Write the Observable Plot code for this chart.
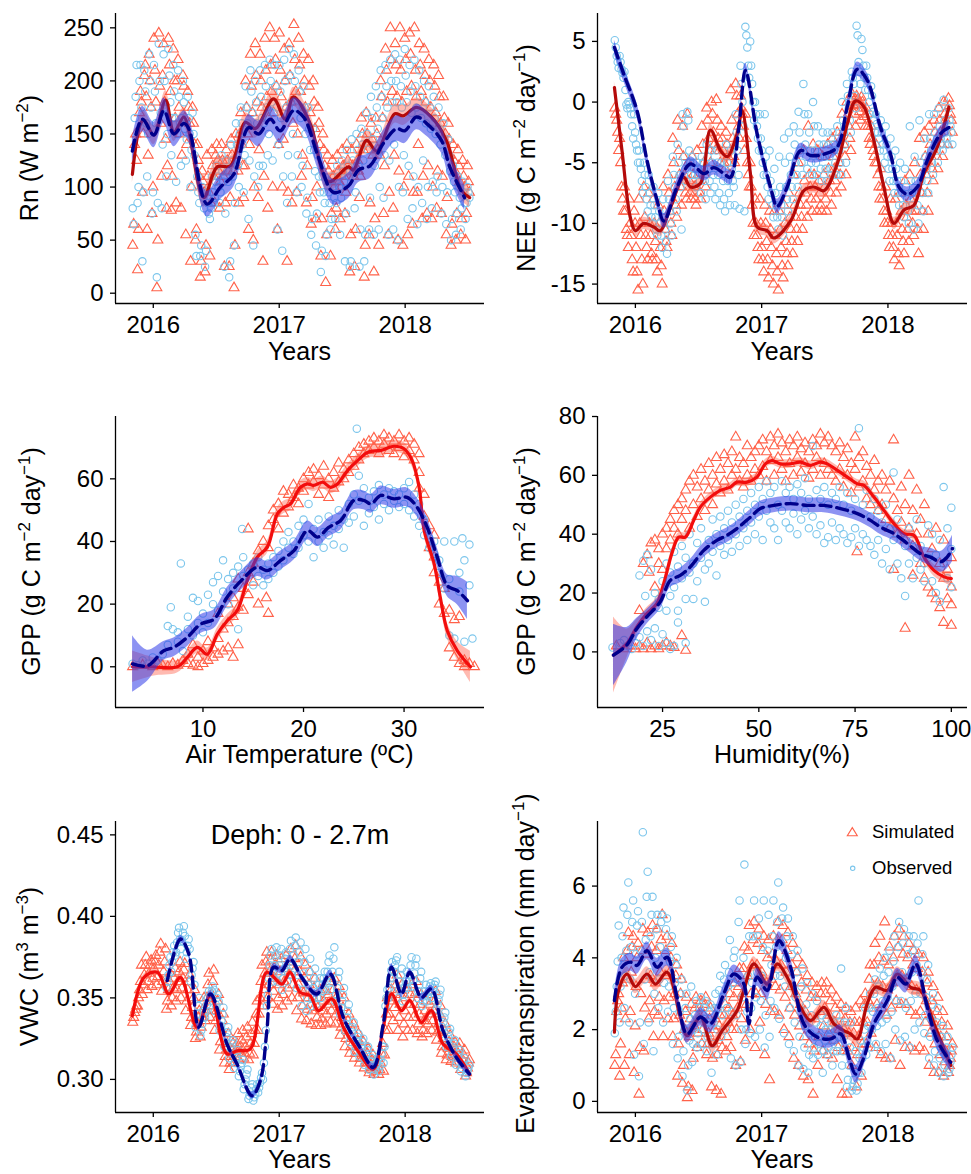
<!DOCTYPE html>
<html><head><meta charset="utf-8">
<script src="https://cdn.jsdelivr.net/npm/d3@7"></script>
<script src="https://cdn.jsdelivr.net/npm/@observablehq/plot@0.6"></script>
<style>
body{margin:0;background:#fff;}
#wrap{position:relative;width:971px;height:1174px;background:#fff;overflow:hidden;}
</style></head><body><div id="wrap"></div>
<script>
// ---------- time-series scatter: each string = values of one 14-day slot starting 2015-11-01 ----------
const T0 = 2015.833, STEP = 0.0383;

const rnSim = ["45 65 140 150 125","22 60 170 190 180","95 150 205 215 185","60 130 225 200 175","75 100 240 210 180","5 50 245 195 160","110 205 235 180 145","80 120 240 215 190","78 110 230 200 165","85 200 220 175 150",
"80 130 205 195 165","55 140 190 175 160","30 100 175 160 140","50 60 140 125 110","15 30 115 105 95","20 45 130 110 95","35 85 135 120 110","85 130 140 125 115","80 105 140 125 110","25 85 135 125 115",
"25 90 145 130 115","5 45 150 130 115","85 150 170 140 120","90 120 200 175 150","60 140 225 195 170","50 100 235 205 180","90 135 225 200 175","30 110 240 210 185","80 165 250 215 190","100 170 240 220 195",
"60 140 245 210 185","100 145 230 200 175","30 95 235 205 180","85 160 253 220 190","95 150 240 215 190","110 130 225 200 175","85 120 220 195 170","65 90 200 180 155","70 100 175 160 140","35 70 150 135 120",
"10 55 130 115 105","35 75 125 110 100","60 80 130 115 105","70 100 135 120 110","75 95 140 125 115","20 55 135 120 110","25 60 140 125 115","90 110 165 150 135","15 45 170 150 135","55 85 160 145 130",
"20 70 165 150 135","45 130 200 185 165","75 120 230 210 180","55 95 250 220 190","80 130 235 215 185","50 115 250 210 180","45 100 240 220 190","55 110 245 225 195","65 95 250 210 185","95 140 235 215 190",
"70 110 230 205 180","75 120 220 200 175","70 100 215 195 170","80 115 205 185 160","75 110 185 165 150","55 90 160 145 130","45 65 140 125 115","50 75 135 120 105","55 70 125 110 100","50 75 120 105 95"];
const rnObs = ["80 65 165 185 215","85 100 200 215 175","30 95 210 190 160","110 150 225 200 175","75 95 215 190 160","15 85 235 200 170","80 140 225 200 175","110 150 230 205 180","130 165 215 190 165","105 150 210 185 160",
"120 165 200 180 155","125 145 185 165 150","100 135 170 150 130","55 35 110 95 85","35 45 100 90 80","25 40 95 85 75","70 80 110 95 85","90 105 120 110 100","85 95 130 115 105","25 75 125 115 105",
"15 30 140 125 110","45 85 160 140 120","100 150 175 160 140","95 130 195 175 160","70 125 210 190 170","45 110 200 180 160","100 120 210 185 165","120 160 215 195 175","130 150 220 200 180","125 170 215 195 175",
"60 140 215 190 165","40 110 220 200 175","85 130 230 205 180","110 150 225 200 175","95 130 210 190 165","100 120 195 175 150","75 90 175 155 135","55 70 155 135 115","45 75 130 110 95","20 40 110 95 85",
"35 55 105 95 85","60 70 110 100 90","70 85 120 110 100","55 90 125 115 105","30 75 135 120 110","25 30 145 125 115","80 95 150 135 120","25 60 155 140 125","30 55 170 150 135","60 90 185 165 145",
"55 120 195 175 155","60 100 210 185 165","90 130 215 195 175","55 125 220 200 180","60 140 225 200 180","50 100 220 195 175","95 130 230 205 180","70 120 215 190 170","80 110 220 195 175","65 100 210 185 165",
"85 125 200 180 160","70 100 195 175 155","80 105 185 165 150","95 110 175 155 140","75 100 160 145 130","65 95 145 130 115","50 70 120 105 95","55 75 110 100 90","60 80 105 95 85","70 85 100 95 90"];

const neeSim = ["-0.5 -1 -1.5 -2.5 -4","-3 -5 -7 -8 -9","-7 -9 -10.5 -11 -12","-8 -10 -11 -13 -14","-9 -10 -12 -14 -15.5","-8 -10 -11 -13 -15","-7 -9.5 -11 -12 -13","-7.5 -10 -11 -12.5 -13","-8 -10 -11.5 -13 -14","-8.5 -10 -12 -13.5 -15",
"-7 -9 -10.5 -11.5 -12","-6 -7.5 -9 -10 -11","-3 -5 -7 -8.5 -9.5","-1.5 -4 -6 -7 -8.5","-2 -4.5 -6 -7.5 -8","-1 -5 -6.5 -7.5 -8","-4.5 -6 -7 -8 -8.5","-4 -6 -6.5 -7.5 -8","-2 -3.5 -5 -6 -7","-0.5 -1.5 -3 -4 -5",
"0 -1 -2.5 -3.5 -4","0.2 -1.5 -3 -4 -5","-2 -3 -4 -5 -5.5","-2.5 -3.5 -4.5 -5 -6","1 -1.5 -3 -4.5 -5","1.5 0.5 -1 -2 -3","0.5 -0.5 -1 -2 -4","-1 -3 -5 -6 -7","-5 -7 -8.5 -10 -11","-8 -10 -11 -12 -13",
"-8 -10 -12 -13 -14","-8.5 -10 -11.5 -13 -14.5","-9 -10.5 -12 -13.5 -15","-9 -11 -12.5 -14 -15.5","-9 -10.5 -12 -13.5 -14.5","-8.5 -10 -11.5 -12.5 -13.5","-7.5 -9.5 -10.5 -11.5 -12.5","-6 -8.5 -9.5 -10.5 -11.5","-5 -7.5 -8.5 -9.5 -10.5","-4 -6.5 -7.5 -8.5 -9.5",
"-2 -6 -7 -8 -9","-3.5 -6 -7 -8 -9","-4 -6.5 -7.5 -8.5 -9","-4.5 -6 -7 -8 -9","-3.5 -5.5 -6.5 -7.5 -8.5","-3 -4.5 -5.5 -6.5 -7.5","-2.5 -4 -5 -6 -7","-1 -2.5 -3.5 -4.5 -6","0 -1 -2 -3 -4","0.7 0.3 -0.3 -1 -2",
"0.5 0.2 -0.2 -0.8 -1.5","0.4 0 -0.5 -1.2 -2","-0.5 -1 -2 -3 -3.5","-2 -3 -4 -4.5 -5","-3.5 -5 -6 -7 -8","-5.5 -7 -8 -9 -10","-7 -9 -10 -11 -12","-8 -10 -11 -12 -13","-8 -10 -11 -12.5 -13.5","-7.5 -9 -10.5 -11.5 -12.5",
"-6.5 -8.5 -9.5 -10.5 -11.5","-6 -8 -9 -10 -11","-5 -7.5 -9 -10.5 -12.5","-3 -6 -7.5 -9 -10.5","-2.5 -4.5 -6 -7.5 -9","-2 -3.5 -4.5 -5.5 -6.5","-1.5 -2.5 -3.5 -4.5 -5.5","-0.5 -1.5 -2.5 -3.5 -4.5","0 -1 -1.5 -2.5 -3.5","0.3 -0.3 -1 -1.5 -2.5"];
const neeObs = ["5.1 4.5 3.8 3.3 2.8","3.8 3.3 2.7 2.4 2","2.5 1 -0.2 -0.5 0","-0.2 -0.5 -1 -2 -3","-1 -2.5 -3.5 -4 -5","-4 -5 -5.5 -6.5 -7.5","-5 -6 -7 -8 -9","-6 -7.5 -8.5 -9.5 -10","-7 -8.5 -9.5 -10.5 -11","-7.5 -9 -10 -11 -12",
"-8 -9.5 -10.5 -11.5 -12.5","-6.5 -8 -9 -10 -11","-4.5 -6 -7 -8 -9","-3.5 -5 -6 -7 -10.5","-1 -2 -4.5 -5.5 -6.5","-0.8 -1.5 -4 -5 -6","-4.5 -5 -5.5 -6 -7","-5 -5.5 -6 -6.5 -7.5","-4.5 -5 -5.5 -6.5 -8","-3.5 -4.5 -5.5 -6.5 -7.5",
"-4 -5 -6 -7 -8","-4 -5 -6 -7.5 -8.5","-5 -5.5 -6.5 -8 -9","-3.5 -5 -6.5 -7.5 -8.5","-4 -5.5 -6.5 -7 -8.5","-1 -2.5 -4 -6 -8.8","3 1.5 0 -2 -9","6.2 5.5 4.5 3 2","5 3 1.5 0 -1.5","0 -1 -2 -3 -4",
"-1 -3 -4 -5 -6","-1 -4.5 -6 -7 -8","-4 -6.5 -7.5 -8.5 -9.5","-5.5 -7.5 -8.5 -9.5 -10.5","-4.5 -7 -8.5 -9.5 -11","-3 -5 -7 -8 -9","-2.5 -4.5 -6 -7 -8","-2 -3.5 -5 -6 -7","-0.8 -2.5 -4 -5 -6","1.5 -1 -3.5 -4.5 -5.5",
"-1 -2.5 -4 -5 -6","0 -2 -4 -5 -6","-2 -3.5 -4.5 -5.5 -6.5","-2.5 -3.5 -4.5 -5.5 -6.5","-2.5 -3.5 -4.5 -5.5 -6","-2.5 -3.5 -4 -5 -6","-2 -3 -4 -5 -6","0 -1.5 -2.5 -3.5 -5","1.5 0.5 -0.5 -1.5 -2.5","2.5 2 1.5 0.5 -0.5",
"6.3 5.5 3.3 2.5 1.5","5.2 4.3 3 2 1","3 2 1 0 -1","1.3 0.5 -0.8 -1.5 -2.5","-1 -1.8 -2.5 -3 -4","-1.5 -2.5 -3.5 -4 -5","-2 -3.5 -4.5 -5.5 -6.5","-3 -4.5 -5.5 -6.5 -7.5","-4 -5.5 -6.5 -7.5 -8.5","-5 -6.5 -7.5 -8.5 -9.5",
"-5.5 -7 -8 -9 -10","-2 -6.5 -7.5 -8.5 -10.5","-4.5 -6.5 -7.5 -8.5 -10","-1.5 -5 -6.5 -7.5 -9","-3 -4.5 -5.5 -6.5 -7.5","-1 -3 -4 -5 -6","-1 -2.5 -3.5 -4 -5","-0.5 -2 -3 -3.5 -4","0.2 -1.5 -2.5 -3 -3.5","-0.5 -1.5 -2 -2.5 -3.5"];

const vwcSim = ["0.335 0.338 0.341 0.343 0.345","0.345 0.35 0.355 0.36 0.37","0.352 0.358 0.364 0.37 0.375","0.355 0.36 0.365 0.37 0.373","0.357 0.362 0.368 0.372 0.376","0.358 0.363 0.37 0.378 0.383","0.354 0.36 0.366 0.372 0.38","0.343 0.348 0.355 0.36 0.365","0.345 0.35 0.356 0.362 0.368","0.348 0.355 0.36 0.366 0.372",
"0.35 0.356 0.362 0.367 0.371","0.342 0.348 0.355 0.36 0.364","0.333 0.338 0.344 0.35 0.355","0.325 0.329 0.334 0.338 0.342","0.326 0.332 0.338 0.343 0.35","0.336 0.342 0.35 0.358 0.365","0.338 0.345 0.352 0.36 0.367","0.33 0.336 0.342 0.348 0.352","0.318 0.323 0.33 0.336 0.34","0.31 0.314 0.318 0.322 0.328",
"0.306 0.31 0.314 0.318 0.322","0.31 0.314 0.318 0.322 0.328","0.312 0.316 0.32 0.324 0.33","0.313 0.316 0.32 0.326 0.332","0.312 0.316 0.322 0.328 0.335","0.315 0.322 0.33 0.34 0.348","0.33 0.34 0.35 0.36 0.37","0.345 0.355 0.365 0.372 0.378","0.35 0.358 0.366 0.373 0.378","0.346 0.354 0.362 0.37 0.376",
"0.343 0.35 0.358 0.366 0.374","0.345 0.352 0.36 0.368 0.376","0.348 0.356 0.364 0.372 0.38","0.35 0.358 0.366 0.374 0.382","0.342 0.35 0.358 0.366 0.375","0.337 0.345 0.353 0.362 0.37","0.336 0.343 0.35 0.358 0.366","0.334 0.342 0.35 0.356 0.362","0.333 0.338 0.344 0.35 0.355","0.333 0.337 0.342 0.348 0.354",
"0.334 0.34 0.346 0.352 0.36","0.335 0.342 0.348 0.355 0.362","0.334 0.34 0.346 0.352 0.357","0.327 0.332 0.338 0.344 0.35","0.32 0.325 0.33 0.336 0.34","0.316 0.32 0.325 0.33 0.334","0.313 0.316 0.32 0.324 0.328","0.31 0.313 0.316 0.32 0.323","0.307 0.31 0.313 0.316 0.319","0.304 0.306 0.309 0.312 0.315",
"0.303 0.305 0.307 0.31 0.313","0.303 0.306 0.31 0.316 0.322","0.305 0.315 0.33 0.34 0.35","0.33 0.34 0.348 0.355 0.362","0.336 0.344 0.352 0.358 0.364","0.33 0.338 0.346 0.352 0.358","0.326 0.334 0.342 0.35 0.356","0.33 0.338 0.346 0.352 0.358","0.33 0.338 0.346 0.353 0.36","0.328 0.334 0.34 0.346 0.352",
"0.326 0.33 0.336 0.342 0.348","0.328 0.334 0.34 0.346 0.352","0.33 0.336 0.342 0.348 0.354","0.324 0.329 0.334 0.34 0.345","0.316 0.32 0.325 0.33 0.334","0.312 0.315 0.319 0.323 0.327","0.311 0.314 0.317 0.32 0.323","0.31 0.313 0.316 0.319 0.322","0.306 0.309 0.312 0.315 0.318","0.302 0.304 0.307 0.31 0.312"];
const vwcObs = ["","","","","","","","0.356 0.36 0.364 0.37 0.375","0.366 0.372 0.378 0.382 0.376","0.378 0.384 0.39 0.393 0.386",
"0.38 0.385 0.39 0.394 0.388","0.374 0.378 0.382 0.386 0.38","0.36 0.364 0.368 0.372 0.358","0.332 0.336 0.34 0.345 0.35","0.327 0.33 0.334 0.338 0.342","0.338 0.342 0.346 0.35 0.354","0.348 0.351 0.354 0.357 0.355","0.342 0.346 0.35 0.352 0.348","0.33 0.333 0.336 0.34 0.344","0.32 0.323 0.326 0.329 0.332",
"0.313 0.316 0.319 0.322 0.324","0.307 0.31 0.313 0.316 0.318","0.302 0.305 0.308 0.31 0.312","0.294 0.297 0.3 0.303 0.306","0.288 0.29 0.292 0.295 0.297","0.287 0.289 0.291 0.294 0.297","0.292 0.295 0.298 0.301 0.304","0.3 0.31 0.32 0.33 0.345","0.352 0.362 0.37 0.376 0.38","0.36 0.365 0.37 0.376 0.381",
"0.36 0.365 0.37 0.376 0.38","0.355 0.362 0.368 0.374 0.378","0.36 0.366 0.372 0.38 0.385","0.364 0.37 0.376 0.382 0.387","0.356 0.364 0.372 0.378 0.384","0.345 0.355 0.365 0.372 0.38","0.342 0.35 0.358 0.366 0.374","0.345 0.35 0.356 0.362 0.368","0.346 0.35 0.354 0.358 0.362","0.35 0.354 0.358 0.362 0.366",
"0.355 0.36 0.366 0.372 0.376","0.355 0.36 0.366 0.374 0.381","0.348 0.352 0.356 0.362 0.366","0.34 0.344 0.348 0.352 0.356","0.33 0.334 0.338 0.342 0.346","0.323 0.326 0.329 0.332 0.335","0.317 0.32 0.323 0.326 0.328","0.314 0.317 0.32 0.323 0.325","0.309 0.312 0.315 0.318 0.32","0.306 0.308 0.311 0.313 0.315",
"0.303 0.306 0.308 0.31 0.313","0.305 0.308 0.312 0.316 0.32","0.31 0.32 0.345 0.35 0.355","0.35 0.356 0.362 0.367 0.372","0.362 0.366 0.37 0.373 0.375","0.35 0.355 0.36 0.364 0.368","0.348 0.352 0.356 0.36 0.366","0.356 0.36 0.364 0.37 0.375","0.357 0.361 0.365 0.37 0.374","0.35 0.354 0.358 0.362 0.366",
"0.345 0.348 0.351 0.354 0.358","0.348 0.351 0.354 0.357 0.359","0.35 0.353 0.356 0.358 0.36","0.343 0.346 0.349 0.352 0.355","0.328 0.332 0.335 0.338 0.341","0.32 0.323 0.326 0.329 0.331","0.314 0.316 0.319 0.322 0.324","0.309 0.311 0.314 0.316 0.318","0.305 0.307 0.309 0.311 0.313","0.302 0.304 0.305 0.307 0.309"];

const etSim = ["1.0 1.3 2.5 2.8 3.0","0.7 1.6 2.6 3.3 4.0","1.0 2.3 3.4 4.2 4.7","1.3 2.5 3.6 4.3 4.6","0.8 2.1 3.2 4.0 4.4","0.2 1.5 3.0 4.2 4.8","1.4 2.6 3.4 4.1 4.7","2.3 2.8 3.5 4.3 4.9","1.8 2.5 3.3 4.2 4.8","2.4 2.9 3.6 4.5 5.2",
"1.8 2.8 3.5 4.2 4.6","2.3 2.9 3.6 4.0 4.4","1.8 2.3 3.0 3.5 3.8","0.7 1.6 2.4 3.0 3.4","0.5 1.0 2.0 2.5 2.9","0.1 0.4 1.8 2.3 2.7","0.3 1.2 2.1 2.6 2.9","1.5 1.9 2.3 2.6 2.8","1.6 2.0 2.4 2.7 2.9","1.3 1.6 1.9 2.3 2.6",
"0.4 1.2 1.6 2.0 2.3","0.3 1.3 1.7 2.1 2.4","0.2 1.5 2.0 2.4 2.7","1.4 1.8 2.2 2.6 3.0","1.5 2.0 2.4 2.9 3.3","1.0 2.0 2.6 3.2 3.7","1.1 2.3 3.0 3.7 4.3","1.7 2.7 3.5 4.2 4.9","2.0 3.0 3.8 4.5 5.0","1.5 3.0 3.8 4.4 4.8",
"2.2 3.0 3.6 4.2 4.6","1.3 2.7 3.3 4.0 4.5","0.6 2.5 3.4 4.1 4.6","2.5 3.2 3.9 4.5 5.0","2.4 3.1 3.8 4.5 4.9","2.0 2.9 3.6 4.2 4.7","1.8 2.6 3.2 3.8 4.4","1.2 2.4 3.0 3.6 4.0","1.0 2.1 2.7 3.3 3.8","0.7 1.8 2.5 3.1 3.5",
"0.6 1.6 2.3 2.9 3.3","0.2 1.4 2.3 2.9 3.2","1.0 1.8 2.5 3.0 3.3","1.4 2.1 2.6 3.0 3.3","1.3 1.9 2.4 2.8 3.1","1.2 1.7 2.2 2.6 2.9","0.6 1.5 2.0 2.4 2.7","0.2 1.4 2.0 2.3 2.6","0.2 1.4 1.9 2.2 2.5","1.0 1.5 1.9 2.2 2.6",
"0.4 1.3 1.8 2.2 2.8","0.7 1.6 2.2 2.7 3.0","1.6 2.2 2.8 3.4 3.8","1.9 2.6 3.1 3.8 4.4","1.5 2.7 3.3 4.0 4.6","1.3 2.6 3.2 3.9 5.0","1.2 2.4 3.1 3.8 4.3","1.2 2.6 3.3 4.0 4.6","1.7 2.8 3.5 4.3 4.8","1.0 2.7 3.5 4.1 4.6",
"1.5 2.7 3.4 4.0 4.4","1.5 2.5 3.2 3.8 4.2","1.4 2.4 3.1 3.7 4.1","1.5 2.5 3.1 3.6 4.0","1.4 2.2 2.8 3.3 3.6","1.0 1.9 2.4 2.8 3.2","0.8 1.6 2.1 2.5 2.9","0.8 1.3 1.8 2.2 2.5","0.7 1.1 1.4 1.8 2.1","0.8 1.0 1.2 1.4 1.6"];
const etObs = ["1.9 2.5 3.2 3.9 4.9","2.2 3.2 4.0 4.6 5.4","2.6 3.5 4.2 5.2 6.1","2.2 3.4 4.3 5.0 5.6","1.3 3.0 4.1 4.9 5.3","0.7 2.2 4.2 5.0 7.5","1.6 3.4 4.5 5.7 6.4","2.2 3.6 4.6 5.2 5.7","1.4 3.0 4.0 4.8 5.2","2.6 3.4 4.3 5.0 5.2",
"2.2 3.3 4.1 4.8 5.1","2.5 3.2 3.9 4.3 4.6","1.6 2.6 3.3 3.8 4.0","1.2 1.8 2.5 3.0 3.4","0.7 1.4 2.0 2.6 3.0","0.3 1.0 1.7 2.3 3.2","1.1 1.6 2.0 2.4 2.8","1.5 1.9 2.3 2.6 2.9","1.6 2.0 2.3 2.6 2.8","1.4 1.8 2.2 2.5 2.7",
"0.8 1.6 2.2 2.6 3.0","1.3 2.0 2.6 3.1 3.5","1.8 2.4 2.9 3.4 3.8","2.0 2.6 3.2 3.6 4.5","1.2 2.5 3.3 4.0 4.2","1.0 2.4 3.4 5.0 5.6","1.1 2.0 2.9 4.0 6.6","1.6 2.0 2.5 3.5 4.6","1.9 2.6 3.3 4.6 5.6","1.8 2.9 3.6 4.6 5.1",
"2.0 2.8 3.5 4.3 5.6","1.5 2.4 3.2 4.2 5.2","1.8 2.8 3.8 4.6 5.6","2.6 3.5 4.3 5.0 6.1","2.3 3.5 4.4 5.1 5.4","1.9 3.2 4.0 4.6 5.1","1.6 2.6 3.4 4.1 4.6","1.4 2.2 2.9 3.6 4.2","1.0 1.8 2.5 3.2 3.7","0.9 1.5 2.1 2.7 3.3",
"0.8 1.3 1.9 2.4 3.0","1.2 1.5 1.8 2.2 2.8","1.3 1.6 1.8 2.1 2.4","0.8 1.4 1.7 2.0 2.3","1.3 1.5 1.8 2.0 2.2","1.0 1.4 1.7 2.0 2.4","1.4 1.6 1.8 2.2 3.7","1.0 1.4 1.8 2.2 2.6","0.4 0.6 1.0 1.5 2.2","0.3 0.4 0.6 0.9 1.4",
"0.3 0.5 0.8 1.2 1.7","0.8 1.2 1.5 2.0 2.6","1.3 1.7 2.1 2.6 3.0","1.5 2.0 2.5 3.0 3.4","1.6 2.1 2.6 3.2 3.7","1.4 2.2 2.8 3.5 4.0","1.6 2.3 2.9 3.6 4.2","1.2 2.5 3.2 3.9 4.6","2.0 2.8 3.5 4.3 5.0","1.7 2.8 3.6 4.4 4.8",
"1.8 2.6 3.4 4.1 4.6","1.5 2.8 3.6 4.2 4.6","2.0 3.0 3.8 4.4 5.6","2.2 3.0 3.6 4.1 4.6","1.9 2.4 2.9 3.4 3.8","1.2 1.8 2.3 2.7 3.0","1.0 1.4 1.8 2.2 2.6","0.8 1.2 1.5 1.8 2.1","0.7 1.0 1.3 1.5 1.8","0.8 0.9 1.1 1.3 1.5"];

// ---------- smoothed curves (x in decimal years) and their band half-widths ----------
const rnSimT = [2015.834,2015.900,2015.926,2016.005,2016.098,2016.164,2016.243,2016.282,2016.401,2016.507,2016.612,2016.731,2016.810,2016.955,2017.047,2017.113,2017.245,2017.390,2017.549,2017.588,2017.694,2017.773,2017.918,2017.984,2018.090,2018.208,2018.327,2018.446,2018.512];
const rnSimV = [112,160,163,149,182,152,166,153,90,119,120,161,155,183,164,185,160,105,119,116,144,134,169,167,175,166,144,97,90];
const rnObsT = [2015.834,2015.913,2016.005,2016.084,2016.164,2016.243,2016.282,2016.427,2016.533,2016.639,2016.757,2016.836,2016.929,2017.008,2017.113,2017.193,2017.311,2017.430,2017.549,2017.628,2017.720,2017.826,2017.931,2017.997,2018.090,2018.169,2018.288,2018.354,2018.472];
const rnObsV = [134,164,149,172,150,160,155,84,100,112,156,150,164,153,172,166,128,95,101,116,120,141,155,153,166,160,144,119,90];
const rnBand = {sim: 9, obs: 12};

const neeSimT = [2015.834,2015.894,2015.960,2016.000,2016.066,2016.145,2016.198,2016.277,2016.383,2016.436,2016.515,2016.594,2016.674,2016.727,2016.806,2016.845,2016.911,2016.964,2017.044,2017.096,2017.229,2017.334,2017.413,2017.493,2017.598,2017.678,2017.744,2017.810,2017.889,2017.968,2018.048,2018.127,2018.206,2018.285,2018.391,2018.483];
const neeSimV = [1.2,-4.0,-9.5,-10.6,-10.0,-10.3,-10.6,-8.7,-6.2,-7.0,-6.7,-2.3,-4.0,-4.5,-2.6,-0.7,-5.9,-10.3,-10.6,-11.2,-9.8,-7.3,-7.0,-7.3,-5.1,-1.8,0.1,-0.4,-3.2,-7.0,-10.0,-8.9,-8.5,-5.9,-3.7,-0.4];
const neeObsT = [2015.834,2015.908,2016.013,2016.092,2016.172,2016.225,2016.330,2016.436,2016.542,2016.621,2016.700,2016.753,2016.819,2016.872,2016.964,2017.070,2017.123,2017.202,2017.308,2017.387,2017.493,2017.598,2017.678,2017.757,2017.836,2017.942,2018.021,2018.087,2018.153,2018.232,2018.312,2018.417,2018.483];
const neeObsV = [4.5,2.3,-0.7,-4.8,-8.1,-9.8,-7.0,-5.1,-5.9,-5.4,-5.9,-6.2,-2.1,2.6,-2.6,-7.0,-8.6,-7.0,-4.0,-4.4,-4.3,-3.7,-0.4,2.7,1.8,-2.1,-4.3,-7.0,-7.6,-7.0,-4.8,-2.6,-2.1];
const neeBand = {sim: 0.5, obs: 0.6};

const vwcSimT = [2015.834,2015.926,2016.032,2016.124,2016.216,2016.348,2016.454,2016.586,2016.665,2016.770,2016.902,2017.021,2017.087,2017.166,2017.245,2017.311,2017.417,2017.509,2017.615,2017.747,2017.826,2017.892,2017.971,2018.037,2018.129,2018.208,2018.301,2018.406,2018.512];
const vwcSimV = [0.339,0.3626,0.3657,0.3524,0.3626,0.332,0.3514,0.3156,0.3176,0.3186,0.3657,0.3585,0.3657,0.3534,0.3514,0.3422,0.3493,0.332,0.3186,0.3063,0.332,0.3524,0.3422,0.3483,0.335,0.3422,0.3217,0.3156,0.3033];
const vwcObsT = [2016.111,2016.216,2016.282,2016.361,2016.454,2016.586,2016.665,2016.784,2016.850,2016.902,2016.955,2017.021,2017.087,2017.179,2017.298,2017.404,2017.509,2017.641,2017.747,2017.826,2017.892,2017.971,2018.037,2018.129,2018.208,2018.301,2018.406,2018.512];
const vwcObsV = [0.3606,0.3861,0.377,0.332,0.3524,0.3217,0.3094,0.290,0.2992,0.3299,0.3688,0.3667,0.3739,0.3626,0.3524,0.3647,0.338,0.3196,0.3074,0.334,0.3688,0.3524,0.3657,0.3503,0.3555,0.3299,0.3135,0.3033];
const vwcBand = {sim: 0.002, obs: 0.0022};

const etSimT = [2015.834,2015.868,2015.934,2016.000,2016.092,2016.159,2016.251,2016.357,2016.410,2016.515,2016.608,2016.687,2016.806,2016.859,2016.938,2017.044,2017.123,2017.202,2017.308,2017.387,2017.493,2017.572,2017.651,2017.704,2017.757,2017.836,2017.902,2017.995,2018.074,2018.180,2018.259,2018.365,2018.497];
const etSimV = [1.93,3.1,3.55,3.2,3.55,3.27,3.6,2.35,1.83,2.35,1.55,1.97,2.53,3.1,3.83,3.27,3.83,3.46,2.62,2.25,2.62,2.16,1.97,1.88,1.74,2.72,3.18,3.09,3.55,3.18,3.09,2.16,1.0];
const etObsT = [2015.834,2015.894,2015.960,2016.013,2016.092,2016.172,2016.251,2016.330,2016.410,2016.515,2016.594,2016.700,2016.779,2016.859,2016.898,2016.964,2017.044,2017.136,2017.229,2017.334,2017.440,2017.546,2017.625,2017.691,2017.744,2017.810,2017.889,2017.995,2018.074,2018.140,2018.219,2018.312,2018.391,2018.497];
const etObsV = [2.81,3.74,3.88,3.79,4.2,3.74,4.02,2.9,1.88,2.35,2.16,3.0,3.55,3.27,2.16,3.46,3.09,4.48,3.74,2.16,1.79,1.74,1.88,1.23,0.76,1.23,2.16,2.81,3.46,3.27,3.83,2.62,1.69,1.09];
const etBand = {sim: 0.2, obs: 0.25};

// ---------- GPP vs air temperature ----------
const tSimPts = [[3.0,0],[4.0,0.5],[5.0,0],[5.5,1],[6.0,0.3],[6.5,0],[7.0,1],[7.5,0.5],[8.0,2],[8.5,1],[8.5,4],[9.0,0.5],[9.0,7],[9.5,3],[9.5,0],[10.0,5],[10.0,1],[10.5,2],[10.5,8],[11.0,3],[11.0,6],[11.5,9],[11.5,4],[11.5,17],[12.0,12],[12.0,5],[12.5,6],[12.5,14],[12.5,20],[13.0,3],[13.0,16],[13.0,22],[13.5,7],[13.5,19],[13.5,28],[14.0,25],[14.0,18],[14.5,30],[14.5,23],[14.5,44],[15.0,33],[15.0,27],[15.5,37],[15.5,20],[16.0,40],[16.3,22],[16.5,17],[16.5,45],[16.5,38],[17.0,50],[17.0,47],[17.5,52],[17.5,44],[18.0,56],[18.0,49],[18.5,55],[18.5,51],[19.0,58],[19.0,54],[19.5,57],[19.5,52],[20.0,60],[20.0,56],[20.5,62],[20.5,58],[21.0,59],[21.0,63],[21.5,55],[21.5,61],[22.0,64],[22.0,58],[22.5,60],[22.5,54],[23.0,62],[23.0,57],[23.5,65],[23.5,59],[24.0,63],[24.0,60],[24.5,66],[24.5,62],[25.0,68],[25.0,64],[25.5,70],[25.5,66],[26.0,71],[26.0,68],[26.5,69],[26.5,72],[27.0,73],[27.0,70],[27.5,68],[27.5,72],[28.0,71],[28.0,74],[28.5,69],[28.5,73],[29.0,72],[29.0,68],[29.5,74],[29.5,70],[30.0,72],[30.0,67],[30.5,73],[30.5,69],[31.0,71],[31.0,66],[31.5,62],[31.5,57],[31.5,68],[32.0,55],[32.0,48],[32.5,45],[32.5,38],[33.0,35],[33.0,30],[33.0,42],[33.5,27],[33.5,20],[34.0,17],[34.0,25],[34.5,18],[34.5,6],[35.0,3],[35.0,15],[35.5,1],[35.5,16],[36.0,2],[36.0,0],[36.5,1],[37.0,0]];
const tObsPts = [[3.0,1],[3.5,0.5],[4.0,2],[4.5,1],[5.0,3],[5.5,2],[6.0,4],[6.5,13],[6.5,7],[6.8,19],[7.0,12],[7.5,8],[7.8,33],[7.5,11],[8.0,5],[8.5,12],[8.5,16],[9.0,22],[9.0,10],[9.5,14],[9.5,21],[10.0,11],[10.0,17],[10.5,23],[10.5,14],[11.0,20],[11.0,27],[11.5,29],[11.5,18],[12.0,24],[12.0,34],[12.5,20],[12.5,28],[13.0,30],[13.0,25],[13.5,32],[13.5,12],[13.9,44],[14.0,29],[14.0,35],[14.5,31],[15.0,33],[15.0,26],[15.5,35],[15.5,29],[16.0,31],[16.0,26],[16.5,33],[16.5,28],[17.0,35],[17.0,30],[17.5,37],[17.5,32],[18.0,40],[18.0,34],[18.5,38],[18.5,43],[19.0,36],[19.0,40],[19.5,45],[19.5,38],[20.0,47],[20.0,42],[20.5,40],[20.5,52],[21.0,44],[21.0,35],[21.5,40],[21.5,47],[22.0,43],[22.0,38],[22.5,48],[22.5,42],[23.0,39],[23.0,45],[23.5,50],[23.5,44],[24.0,38],[24.0,47],[24.5,52],[24.5,46],[25.0,55],[25.0,48],[25.3,76],[25.5,53],[25.5,61],[26.0,57],[26.0,45],[26.5,54],[26.5,49],[27.0,56],[27.0,51],[27.5,58],[27.5,47],[28.0,55],[28.0,52],[28.5,57],[28.5,50],[29.0,56],[29.0,53],[29.5,55],[29.5,51],[30.0,57],[30.0,52],[30.5,59],[30.5,50],[31.0,55],[31.0,48],[31.5,52],[31.5,45],[32.0,47],[32.0,42],[32.5,41],[32.5,38],[33.0,40],[33.0,36],[33.5,34],[33.5,30],[34.0,25],[34.0,40],[34.5,28],[34.5,10],[35.0,40],[35.0,9],[35.5,30],[35.5,24],[36.0,34],[36.0,8],[36.5,39],[36.5,26],[36.8,9],[35.8,41]];
const tSimT = [3.0,5.0,7.45,8.44,9.44,10.43,11.43,12.42,13.4,14.4,15.4,16.4,17.4,18.06,18.7,19.7,20.4,21.0,21.9,22.7,23.4,24.4,25.4,26.4,27.7,29.0,30.0,30.8,31.5,32.0,33.0,33.6,34.3,35.3,36.6];
const tSimV = [0,0,0,3,6.2,4.0,10.4,14.7,17.9,27.5,35,38.2,48.8,50.9,52,57.3,58.4,57.9,58.9,57.3,58.4,62.7,65.9,68.5,69.1,70.4,69.6,65.9,57.3,43.5,32.8,22.2,11.5,5.1,0];
const tSimHW = [5,3,2,2,2,2,2,2,2,2,2,2,2,2,2,2,2,2,2,2,2,2,2,2,2,2,2,2,2,2,2,2,2.5,3,5];
const tObsT = [3.0,4.46,6.1,7.1,8.44,9.77,11.1,12.4,13.8,15.4,16.4,17.7,19.05,20.4,21.4,22.5,23.7,25.0,26.0,26.7,27.7,29.0,30.3,31.3,32.3,33.3,34.3,35.3,36.3];
const tObsV = [0.9,0.3,5.1,6.2,9.4,13.6,15.2,22.2,27.5,31.8,30.7,33.9,37.1,43.5,41.4,44.5,46.7,53.1,53.1,52,54.7,53.6,54.1,50.9,44.5,35,25.9,24.3,21.1];
const tObsHW = [9,5,3,3,3,3,3,3,3,3,3,3,3,3,3,3,3,3,3,3,3,3,3,3,3,3,3.5,4.5,6];

// ---------- GPP vs humidity ----------
const hSimPts = [[13,2],[15,1],[17,2],[18,1],[19,2],[20,1],[21,3],[22,1],[23,2],[24,1],[25,2],[26,3],[27,2],[28,1.5],[30,5.5],[31,0.5],[19,14],[20,30],[21,33],[21.5,27],[22,37],[23,38],[23,22],[24,35],[24,30],[25,40],[25,28],[26,42],[26,35],[27,45],[27,38],[28,48],[28,42],[29,50],[29,40],[30,52],[30,45],[31,55],[31,48],[32,58],[32,42],[33,60],[33,50],[34,56],[34,46],[35,62],[35,52],[36,58],[36,48],[37,64],[37,55],[38,60],[38,50],[39,66],[39,57],[40,62],[40,54],[41,67],[41,58],[42,64],[42,55],[43,68],[43,60],[44,73],[44,62],[45,66],[45,58],[46,64],[46,56],[47,70],[47,60],[48,66],[48,58],[49,68],[49,62],[50,70],[50,60],[51,72],[51,63],[52,68],[52,58],[53,73],[53,65],[54,70],[54,60],[55,74],[55,66],[56,71],[56,62],[57,68],[57,58],[58,72],[58,64],[59,70],[59,60],[60,73],[60,66],[61,69],[61,61],[62,71],[62,64],[63,68],[63,59],[64,72],[64,62],[65,70],[65,66],[66,74],[66,60],[67,71],[67,64],[68,73],[68,62],[69,70],[69,60],[70,68],[70,58],[71,71],[71,62],[72,66],[72,56],[73,69],[73,60],[74,64],[74,54],[75,73],[75,62],[75.5,34],[76,66],[76,56],[77,68],[77,58],[78,63],[78,52],[79,60],[79,50],[80,65],[80,55],[81,58],[81,48],[82,60],[82,50],[83,55],[83,45],[84,58],[84,42],[85,72],[85,52],[85,28],[86,48],[86,40],[87,56],[87,44],[88,8],[88,50],[88,38],[89,60],[89,42],[90,48],[90,36],[90,26],[91,55],[91,40],[92,45],[92,30],[93,50],[93,25],[94,40],[94,22],[95,35],[95,20],[96,42],[96,18],[97,30],[97,15],[98,10],[98,38],[98,25],[99,28],[99,18],[100,9],[100,32],[100,22],[100,16]];
const hObsPts = [[12,1.5],[14,3],[15,4],[16,2],[17,1],[18,3],[19,5],[20,2],[21,7],[22,4],[23,8],[24,2],[25,6],[26,3],[27,1],[28,2],[31,3],[29,10],[24,18],[19,26],[20,31],[20.5,19],[21,33],[22,28],[23,20],[24,15],[25,24],[26,30],[26,14],[27,27],[27,19],[28,34],[28,22],[29,29],[29,14],[30,36],[30,25],[31,18],[31,32],[32,27],[32,40],[33,30],[33,18],[34,37],[34,24],[35,42],[35,32],[36,28],[36,17],[37,38],[37,30],[38,45],[38,34],[39,40],[39,26],[40,46],[40,36],[41,42],[41,33],[42,48],[42,38],[43,44],[43,34],[44,50],[44,40],[45,46],[45,36],[46,52],[46,42],[47,48],[47,38],[48,54],[48,44],[49,50],[49,40],[50,56],[50,46],[51,52],[51,38],[52,58],[52,48],[53,54],[53,44],[54,56],[54,42],[55,50],[55,38],[56,58],[56,48],[57,54],[57,44],[58,56],[58,42],[59,52],[59,47],[60,57],[60,40],[61,54],[61,45],[62,59],[62,48],[63,52],[63,42],[64,70],[64,46],[65,55],[65,40],[66,52],[66,43],[67,56],[67,37],[68,50],[68,39],[69,54],[69,44],[70,52],[70,38],[71,56],[71,42],[72,50],[72,40],[73,54],[73,37],[74,48],[74,39],[75,52],[75,42],[76,76],[76,36],[77,50],[77,40],[78,55],[78,38],[79,46],[79,36],[80,52],[80,33],[81,48],[81,38],[82,44],[82,30],[83,50],[83,35],[84,42],[84,28],[85,61],[85,38],[86,45],[86,30],[87,40],[87,25],[88,19],[88,36],[89,42],[89,30],[90,38],[90,25],[91,45],[91,32],[92,36],[92,28],[93,30],[93,24],[94,43],[94,32],[95,40],[95,24],[96,33],[96,20],[97,38],[97,17],[98,56],[98,30],[99,42],[99,25],[100,49],[100,35],[100,22]];
const hSimT = [12.25,15.7,18.3,20.9,23.5,25.3,27.4,29.2,30.9,33.1,34.8,37.4,40.0,42.6,44.3,46.9,49.5,51.7,53.4,55.6,58.2,60.8,63.4,66.0,67.8,70.4,73.0,75.6,77.3,79.9,82.5,85.1,87.7,90.3,92.9,95.5,98.1,100];
const hSimV = [-1.1,2.8,8.5,13,16.4,23.2,33.4,39,39,44.7,49.2,52.6,54.9,56,57.7,57.7,59.4,63.9,65,63.9,63.9,64.5,63.4,64.5,63.9,61.7,59.4,57.1,56.6,52.6,48.1,43.6,40.2,39.6,32.2,27.7,25.5,24.9];
const hSimHW = [13,5,2.5,2,2,1.5,1.5,1.5,1.5,1.5,1.5,1.5,1.5,1.5,1.5,1.5,1.5,1.5,1.5,1.5,1.5,1.5,1.5,1.5,1.5,1.5,1.5,1.5,1.5,1.5,1.5,1.5,1.5,1.5,1.5,2,2,2.5];
const hObsT = [12.25,15.7,18.3,20.9,24.4,27.0,29.6,32.2,35.7,39.1,41.7,44.3,47.8,50.4,53.9,58.2,62.6,66.9,71.2,75.6,79.0,81.6,85.1,88.6,92.0,94.6,97.2,98.9,100.3];
const hObsV = [-1.1,2.3,7.9,11.9,17,24.3,26,28.9,34.5,37.9,39.6,41.9,45.8,48.7,49.8,50.4,49.8,49.8,48.7,47,44.7,42.4,40.2,36.8,33.4,32.2,30.6,32.2,35.1];
const hObsHW = [10.5,6,3.5,2.5,2.5,2.5,2.5,2.5,2.5,2.5,2.5,2.5,2.5,2.5,2.5,2.5,2.5,2.5,2.5,2.5,2.5,2.5,2.5,2.5,2.5,3,3.5,4,4.5];

// ---------- helpers ----------
const FONT = "'Liberation Sans', Arial, sans-serif";
const SIM_PT = "#FF6149", OBS_PT = "#7CC6EC";
const SIM_RIB = "#FF5A45", OBS_RIB = "#2F3BE8", OBS_LINE = "#00008B";

function slotPts(slots){
  const out = [];
  slots.forEach((s, i) => {
    const vals = s.trim() ? s.trim().split(/\s+/).map(Number) : [];
    vals.forEach((v, j) => out.push({x: T0 + i * STEP + (j + 0.5) * STEP / vals.length, y: v}));
  });
  return out;
}
function curve(xs, ys, hw){
  return xs.map((x, i) => {
    const h = Array.isArray(hw) ? hw[i] : hw;
    return {x, y: ys[i], lo: ys[i] - h, hi: ys[i] + h};
  });
}
const pairs = arr => arr.map(([x, y]) => ({x, y}));

function addText(svg, attrs, parts, size, anchor){
  const t = d3.select(svg).append("text").attr("fill", "#000").attr("font-size", size)
    .attr("font-family", FONT).attr("text-anchor", anchor || "middle");
  Object.entries(attrs).forEach(([k, v]) => t.attr(k, v));
  let sup = false;
  parts.forEach(([s, isSup]) => {
    const ts = t.append("tspan").text(s);
    if (isSup && !sup) { ts.attr("dy", -10).attr("font-size", size * 0.68); sup = true; }
    else if (isSup) { ts.attr("font-size", size * 0.68); }
    else if (sup) { ts.attr("dy", 10); sup = false; }
  });
  return t;
}

function panel(c){
  const ml = c.left === 0 ? 115 : 107, mr = c.left === 0 ? 6 : 4;
  const svg = Plot.plot({
    width: c.w, height: c.h,
    marginLeft: ml, marginRight: mr, marginTop: c.mt, marginBottom: c.mb,
    x: {type: "linear", domain: c.xDomain},
    y: {type: "linear", domain: c.yDomain},
    style: {fontSize: "24px", fontFamily: FONT, color: "#000", background: "transparent", overflow: "visible"},
    marks: [
      Plot.dot(c.sim, {x: "x", y: "y", symbol: "triangle", r: 3.7, stroke: SIM_PT, fill: "none", strokeWidth: 1.1}),
      Plot.dot(c.obs, {x: "x", y: "y", symbol: "circle", r: 3.7, stroke: OBS_PT, fill: "none", strokeWidth: 1.1}),
      Plot.areaY(c.simLine, {x: "x", y1: "lo", y2: "hi", fill: SIM_RIB, fillOpacity: 0.42, curve: "catmull-rom"}),
      Plot.line(c.simLine, {x: "x", y: "y", stroke: c.simColor, strokeWidth: 3.2, curve: "catmull-rom"}),
      Plot.areaY(c.obsLine, {x: "x", y1: "lo", y2: "hi", fill: OBS_RIB, fillOpacity: 0.55, curve: "catmull-rom"}),
      Plot.line(c.obsLine, {x: "x", y: "y", stroke: OBS_LINE, strokeWidth: 3.4, strokeDasharray: "11,6", curve: "catmull-rom"}),
      Plot.ruleX([c.xDomain[0]], {stroke: "#000", strokeWidth: 1.3}),
      Plot.ruleY([c.yDomain[0]], {stroke: "#000", strokeWidth: 1.3}),
      Plot.axisX({ticks: c.xTicks, tickFormat: c.xFmt, tickSize: 5, tickPadding: 7, label: null, strokeWidth: 1.3}),
      Plot.axisY({ticks: c.yTicks, tickFormat: c.yFmt, tickSize: 5, tickPadding: 7, label: null, strokeWidth: 1.3})
    ]
  });
  svg.style.position = "absolute";
  svg.style.left = c.left + "px";
  svg.style.top = c.top + "px";
  const fx0 = ml, fx1 = c.w - mr, fy0 = c.mt, fy1 = c.h - c.mb;
  addText(svg, {x: (fx0 + fx1) / 2, y: fy1 + c.xtGap}, [[c.xTitle]], 25);
  addText(svg, {transform: `translate(${c.ytX},${(fy0 + fy1) / 2 + (c.ytDy || 0)}) rotate(-90)`}, c.yTitle, 25);
  document.getElementById("wrap").appendChild(svg);
  return svg;
}

const yearFmt = d => String(d);
const plainFmt = d => String(d);
const TIME_DOMAIN = [2015.70, 2018.63];
const YEARS = [2016, 2017, 2018];
const DARK_RED = "#B40A0A", BRIGHT_RED = "#F20D0D";

panel({left: 0, top: 0, w: 490, h: 375, mt: 13, mb: 72, xDomain: TIME_DOMAIN, yDomain: [-9.7, 263.5],
  xTicks: YEARS, xFmt: yearFmt, yTicks: [0, 50, 100, 150, 200, 250], yFmt: plainFmt,
  sim: slotPts(rnSim), obs: slotPts(rnObs),
  simLine: curve(rnSimT, rnSimV, rnBand.sim), obsLine: curve(rnObsT, rnObsV, rnBand.obs), simColor: DARK_RED,
  xTitle: "Years", xtGap: 57, ytX: 38, yTitle: [["Rn (W m"], ["−2", 1], [")"]]});

panel({left: 490, top: 0, w: 481, h: 375, mt: 13, mb: 72, xDomain: TIME_DOMAIN, yDomain: [-16.6, 7.3],
  xTicks: YEARS, xFmt: yearFmt, yTicks: [-15, -10, -5, 0, 5], yFmt: plainFmt,
  sim: slotPts(neeSim), obs: slotPts(neeObs),
  simLine: curve(neeSimT, neeSimV, neeBand.sim), obsLine: curve(neeObsT, neeObsV, neeBand.obs), simColor: DARK_RED,
  xTitle: "Years", xtGap: 57, ytX: 45, yTitle: [["NEE (g C m"], ["−2", 1], [" day"], ["−1", 1], [")"]]});

panel({left: 0, top: 380, w: 490, h: 400, mt: 36, mb: 73, xDomain: [1.3, 38.0], yDomain: [-13, 79.9],
  xTicks: [10, 20, 30], xFmt: plainFmt, yTicks: [0, 20, 40, 60], yFmt: plainFmt,
  sim: pairs(tSimPts), obs: pairs(tObsPts),
  simLine: curve(tSimT, tSimV, tSimHW), obsLine: curve(tObsT, tObsV, tObsHW), simColor: BRIGHT_RED,
  xTitle: "Air Temperature (ºC)", xtGap: 56, ytX: 40, yTitle: [["GPP (g C m"], ["−2", 1], [" day"], ["−1", 1], [")"]]});

panel({left: 490, top: 380, w: 481, h: 400, mt: 36, mb: 73, xDomain: [8.1, 104.2], yDomain: [-18.9, 80],
  xTicks: [25, 50, 75, 100], xFmt: plainFmt, yTicks: [0, 20, 40, 60, 80], yFmt: plainFmt,
  sim: pairs(hSimPts), obs: pairs(hObsPts),
  simLine: curve(hSimT, hSimV, hSimHW), obsLine: curve(hObsT, hObsV, hObsHW), simColor: BRIGHT_RED,
  xTitle: "Humidity(%)", xtGap: 56, ytX: 45, yTitle: [["GPP (g C m"], ["−2", 1], [" day"], ["−1", 1], [")"]]});

const p5 = panel({left: 0, top: 790, w: 490, h: 384, mt: 31, mb: 62, xDomain: TIME_DOMAIN, yDomain: [0.2797, 0.4582],
  xTicks: YEARS, xFmt: yearFmt, yTicks: [0.30, 0.35, 0.40, 0.45], yFmt: d3.format(".2f"),
  sim: slotPts(vwcSim), obs: slotPts(vwcObs),
  simLine: curve(vwcSimT, vwcSimV, vwcBand.sim), obsLine: curve(vwcObsT, vwcObsV, vwcBand.obs), simColor: BRIGHT_RED,
  xTitle: "Years", xtGap: 56, ytX: 38, yTitle: [["VWC (m"], ["3", 1], [" m"], ["−3", 1], [")"]]});
addText(p5, {x: 300, y: 54}, [["Deph: 0 - 2.7m"]], 27);

const p6 = panel({left: 490, top: 790, w: 481, h: 384, mt: 31, mb: 62, xDomain: TIME_DOMAIN, yDomain: [-0.31, 7.8],
  xTicks: YEARS, xFmt: yearFmt, yTicks: [0, 2, 4, 6], yFmt: plainFmt,
  sim: slotPts(etSim), obs: slotPts(etObs),
  simLine: curve(etSimT, etSimV, etBand.sim), obsLine: curve(etObsT, etObsV, etBand.obs), simColor: DARK_RED,
  xTitle: "Years", xtGap: 56, ytX: 44, ytDy: -3, yTitle: [["Evapotranspiration (mm day"], ["−1", 1], [")"]]});

// legend (inside panel 6, top right)
const lg = d3.select(p6).append("g");
lg.append("path").attr("d", "M362.3,37.6 L367.3,45.8 L357.3,45.8 Z").attr("fill", "none").attr("stroke", SIM_PT).attr("stroke-width", 1.1);
lg.append("circle").attr("cx", 362.7).attr("cy", 78.3).attr("r", 2.2).attr("fill", "none").attr("stroke", OBS_PT).attr("stroke-width", 1.1);
addText(p6, {x: 382, y: 48.3}, [["Simulated"]], 18.5, "start");
addText(p6, {x: 382, y: 84.3}, [["Observed"]], 18.5, "start");
</script></body></html>
